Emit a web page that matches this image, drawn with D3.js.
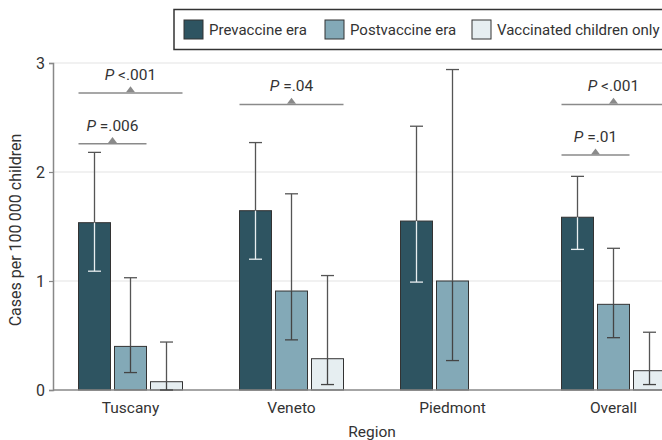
<!DOCTYPE html>
<html>
<head>
<meta charset="utf-8">
<script src="https://cdn.jsdelivr.net/npm/d3@7"></script>
<style>
  body { margin: 0; background: #fff; }
  svg text { font-family: "Roboto", sans-serif; fill: #333; }
</style>
</head>
<body>
<script>
// data
var regions = ["Tuscany", "Veneto", "Piedmont", "Overall"];
var seriesNames = ["Prevaccine era", "Postvaccine era", "Vaccinated children only"];
var seriesColors = ["#2e5461", "#83a9b7", "#e6eef1"];
var prevaccine = [1.535, 1.645, 1.55, 1.585];
var prevLow = [1.09, 1.20, 0.99, 1.29];
var prevHigh = [2.18, 2.27, 2.42, 1.96];
var postvaccine = [0.40, 0.908, 1.0, 0.786];
var postLow = [0.16, 0.46, 0.27, 0.48];
var postHigh = [1.03, 1.80, 2.94, 1.30];
var vaccinated = [0.076, 0.287, null, 0.177];
var vaccLow = [0.0, 0.05, null, 0.05];
var vaccHigh = [0.44, 1.05, null, 0.53];
var yTicks = [0, 1, 2, 3];

// P value brackets: region, from series, to series, level, label
var pRegion = ["Tuscany", "Tuscany", "Veneto", "Overall", "Overall"];
var pFrom = [0, 0, 0, 0, 0];
var pTo = [2, 1, 2, 2, 1];
var pLevel = [2.725, 2.26, 2.62, 2.62, 2.155];
var pText = ["<.001", "=.006", "=.04", "<.001", "=.01"];

var width = 662, height = 440;
var margin = {left: 53};

var svg = d3.select("body").append("svg").attr("width", width).attr("height", height);

var y = d3.scaleLinear().domain([0, 3]).range([390, 63]);
var x0 = d3.scaleBand().domain(regions).range([50, 694]).paddingInner(0).paddingOuter(0);
var x1 = d3.scaleBand().domain(d3.range(3)).range([-52, 52]).paddingInner(4 / 36);

var series = [
  {vals: prevaccine, lo: prevLow, hi: prevHigh},
  {vals: postvaccine, lo: postLow, hi: postHigh},
  {vals: vaccinated, lo: vaccLow, hi: vaccHigh}
];

// gridlines
svg.append("g").selectAll("line").data(yTicks.filter(function(d){ return d > 0; }))
  .enter().append("line")
  .attr("x1", margin.left).attr("x2", width)
  .attr("y1", function(d){ return y(d); }).attr("y2", function(d){ return y(d); })
  .attr("stroke", "#e3e3e3").attr("stroke-width", 1.2);

// y axis
var yAxis = svg.append("g").attr("transform", "translate(" + margin.left + ",0)")
  .call(d3.axisLeft(y).tickValues(yTicks).tickFormat(d3.format("d")).tickSize(4).tickPadding(4));
yAxis.select(".domain").attr("stroke", "#888").attr("stroke-width", 1.5);
yAxis.selectAll(".tick line").attr("stroke", "#888").attr("stroke-width", 1.2);
yAxis.selectAll(".tick text").attr("font-size", 16).attr("fill", "#333")
  .style("font-family", "Roboto, sans-serif");

// bars
var cell = [];
regions.forEach(function(r, i){
  series.forEach(function(s, j){
    if (s.vals[i] != null) cell.push({region: r, s: j, v: s.vals[i], lo: s.lo[i], hi: s.hi[i]});
  });
});

function bx(d){ return x0(d.region) + x0.bandwidth() / 2 + x1(d.s); }

svg.append("g").selectAll("rect").data(cell).enter().append("rect")
  .attr("x", bx)
  .attr("y", function(d){ return y(d.v); })
  .attr("width", x1.bandwidth())
  .attr("height", function(d){ return y(0) - y(d.v); })
  .attr("fill", function(d){ return seriesColors[d.s]; })
  .attr("stroke", "#333").attr("stroke-width", 1);

// x axis baseline
svg.append("line").attr("x1", margin.left).attr("x2", width)
  .attr("y1", y(0)).attr("y2", y(0)).attr("stroke", "#888").attr("stroke-width", 1.5);

// error bars
var eb = svg.append("g").selectAll("g").data(cell).enter().append("g");
function cx(d){ return bx(d) + x1.bandwidth() / 2; }
eb.append("line")
  .attr("x1", cx).attr("x2", cx)
  .attr("y1", function(d){ return y(d.v); }).attr("y2", function(d){ return y(d.hi); })
  .attr("stroke", "#555").attr("stroke-width", 1.3);
eb.append("line")
  .attr("x1", cx).attr("x2", cx)
  .attr("y1", function(d){ return y(d.lo); }).attr("y2", function(d){ return y(d.v); })
  .attr("stroke", function(d){ return d.s === 0 ? "#e8eef0" : "#444"; }).attr("stroke-width", 1.3);
eb.append("line")
  .attr("x1", function(d){ return cx(d) - 6.5; }).attr("x2", function(d){ return cx(d) + 6.5; })
  .attr("y1", function(d){ return y(d.hi); }).attr("y2", function(d){ return y(d.hi); })
  .attr("stroke", "#555").attr("stroke-width", 1.3);
eb.append("line")
  .attr("x1", function(d){ return cx(d) - 6.5; }).attr("x2", function(d){ return cx(d) + 6.5; })
  .attr("y1", function(d){ return y(d.lo); }).attr("y2", function(d){ return y(d.lo); })
  .attr("stroke", function(d){ return d.s === 0 ? "#e8eef0" : "#444"; }).attr("stroke-width", 1.3);

// P value brackets
var pData = pRegion.map(function(r, i){
  var c = x0(r) + x0.bandwidth() / 2;
  var xa = c + x1(pFrom[i]);
  var xb = c + x1(pTo[i]) + x1.bandwidth();
  return {x1: xa, x2: xb, yv: pLevel[i], t: pText[i]};
});
var pg = svg.append("g").selectAll("g").data(pData).enter().append("g");
pg.append("line")
  .attr("x1", function(d){ return d.x1; }).attr("x2", function(d){ return d.x2; })
  .attr("y1", function(d){ return y(d.yv); }).attr("y2", function(d){ return y(d.yv); })
  .attr("stroke", "#8a8a8a").attr("stroke-width", 1.5);
pg.append("path")
  .attr("d", function(d){
    var m = (d.x1 + d.x2) / 2, yy = y(d.yv) - 0.7;
    return "M" + (m - 4.5) + "," + yy + "L" + (m + 4.5) + "," + yy + "L" + m + "," + (yy - 6) + "Z";
  })
  .attr("fill", "#8a8a8a");
var pt = pg.append("text")
  .attr("x", function(d){ return (d.x1 + d.x2) / 2; })
  .attr("y", function(d){ return y(d.yv) - 13; })
  .attr("text-anchor", "middle").attr("font-size", 15.5);
pt.append("tspan").attr("font-style", "italic").text("P ");
pt.append("tspan").text(function(d){ return d.t; });

// x labels
svg.append("g").selectAll("text").data(regions).enter().append("text")
  .attr("x", function(d){ return x0(d) + x0.bandwidth() / 2; })
  .attr("y", 413).attr("text-anchor", "middle").attr("font-size", 15.5)
  .text(function(d){ return d; });

svg.append("text").attr("x", 372).attr("y", 437).attr("text-anchor", "middle")
  .attr("font-size", 15.5).text("Region");

svg.append("text")
  .attr("transform", "translate(21,230) rotate(-90)")
  .attr("text-anchor", "middle").attr("font-size", 16)
  .text("Cases per 100\u2009000 children");

// legend
var lg = svg.append("g");
lg.append("rect").attr("x", 174).attr("y", 9.5).attr("width", 500).attr("height", 40)
  .attr("fill", "#fff").attr("stroke", "#333").attr("stroke-width", 1.5);
var legX = [184, 325, 472];
var li = lg.selectAll("g.item").data(seriesNames).enter().append("g")
  .attr("transform", function(d, i){ return "translate(" + legX[i] + ",20)"; });
li.append("rect").attr("width", 19).attr("height", 19)
  .attr("fill", function(d, i){ return seriesColors[i]; })
  .attr("stroke", "#333").attr("stroke-width", 1);
li.append("text").attr("x", 25).attr("y", 15).attr("font-size", 15).text(function(d){ return d; });
</script>
</body>
</html>
